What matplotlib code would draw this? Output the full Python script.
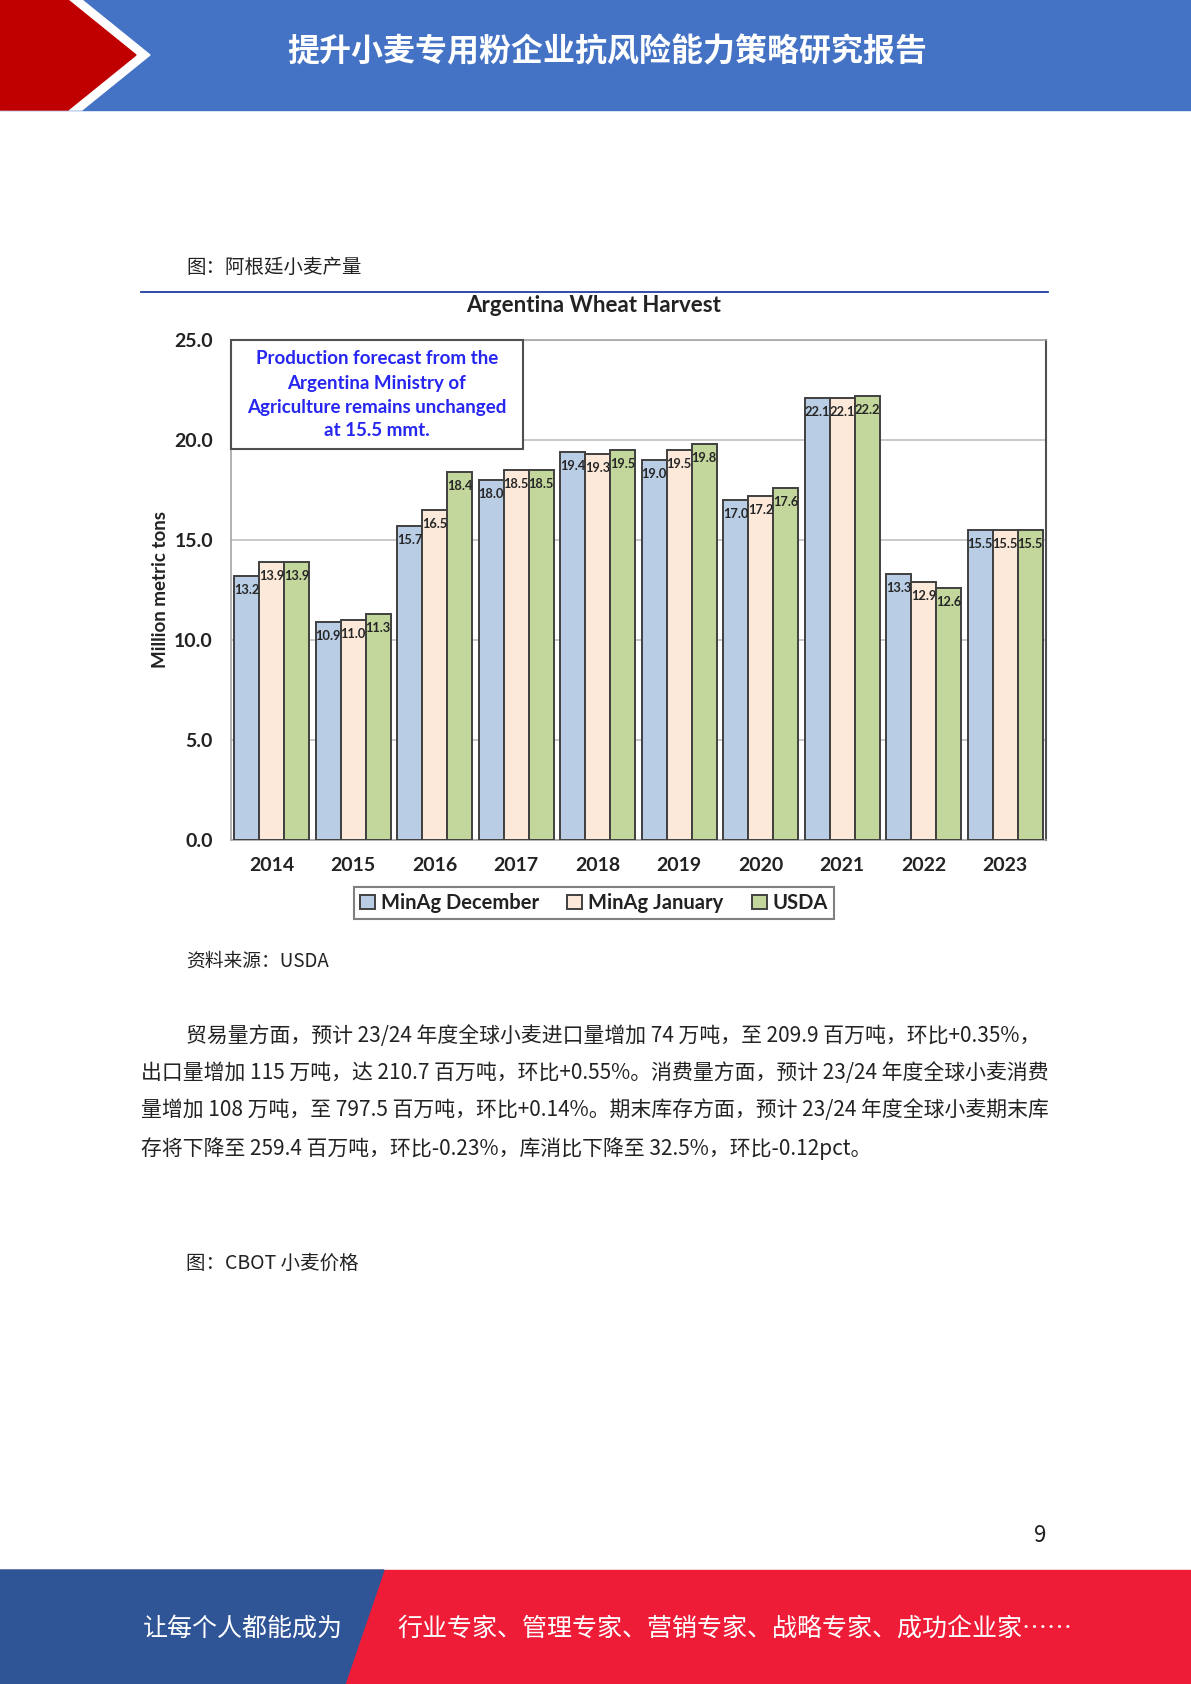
import matplotlib
matplotlib.use("Agg")
import matplotlib.pyplot as plt
import numpy as np
from matplotlib.patches import Polygon, Rectangle
from matplotlib.ticker import FormatStrFormatter

plt.rcParams["font.family"] = ["Lato", "DejaVu Sans"]

# chart data
years = ["2014", "2015", "2016", "2017", "2018", "2019", "2020", "2021", "2022", "2023"]
minagDecember = [13.2, 10.9, 15.7, 18.0, 19.4, 19.0, 17.0, 22.1, 13.3, 15.5]
minagJanuary = [13.9, 11.0, 16.5, 18.5, 19.3, 19.5, 17.2, 22.1, 12.9, 15.5]
usda = [13.9, 11.3, 18.4, 18.5, 19.5, 19.8, 17.6, 22.2, 12.6, 15.5]
seriesNames = ["MinAg December", "MinAg January", "USDA"]
yTicks = [0, 5, 10, 15, 20, 25]

# page text
headerTitle = "提升小麦专用粉企业抗风险能力策略研究报告"
figCaption = "图：阿根廷小麦产量"
sourceText = "资料来源：USDA"
paragraphLines = [
    "贸易量方面，预计 23/24 年度全球小麦进口量增加 74 万吨，至 209.9 百万吨，环比+0.35%，",
    "出口量增加 115 万吨，达 210.7 百万吨，环比+0.55%。消费量方面，预计 23/24 年度全球小麦消费",
    "量增加 108 万吨，至 797.5 百万吨，环比+0.14%。期末库存方面，预计 23/24 年度全球小麦期末库",
    "存将下降至 259.4 百万吨，环比-0.23%，库消比下降至 32.5%，环比-0.12pct。",
]
nextCaption = "图：CBOT 小麦价格"
footerLeft = "让每个人都能成为"
footerRight = "行业专家、管理专家、营销专家、战略专家、成功企业家……"
pageNumber = "9"
noteText = "Production forecast from the\nArgentina Ministry of\nAgriculture remains unchanged\nat 15.5 mmt."

W, H = 1191, 1684
cjk = ["Noto Sans CJK SC", "DejaVu Sans"]

fig = plt.figure(figsize=(W / 100, H / 100), dpi=100)

# page layer in pixel coordinates
page = fig.add_axes([0, 0, 1, 1])
page.set_xlim(0, W)
page.set_ylim(H, 0)
page.axis("off")

# header band
page.add_patch(Rectangle((0, 0), W, 110, color="#4472c4", zorder=1))
page.add_patch(Polygon([(0, 0), (82, 0), (150, 55), (82, 110), (0, 110)], color="white", zorder=2))
page.add_patch(Polygon([(0, 0), (68, 0), (136, 55), (68, 110), (0, 110)], color="#c00000", zorder=3))
page.text(607, 52, headerTitle, color="white", fontsize=23, fontweight="bold",
          family=cjk, ha="center", va="center", zorder=4)

# caption and rule
page.text(186, 267, figCaption, fontsize=14, family=cjk, ha="left", va="center", color="#222222")
page.plot([141, 1048], [292, 292], color="#1f3f9f", lw=1.3)

# source + paragraph
page.text(186, 961, sourceText, fontsize=13.5, family=cjk, ha="left", va="center", color="#222222")
lineY = [1036, 1073, 1110, 1149]
for i, line in enumerate(paragraphLines):
    page.text(186 if i == 0 else 141, lineY[i], line, fontsize=15, family=cjk,
              ha="left", va="center", color="#222222")
page.text(186, 1263, nextCaption, fontsize=14, family=cjk, ha="left", va="center", color="#222222")
page.text(1040, 1535, pageNumber, fontsize=16, family=cjk, ha="center", va="center", color="#222222")

# footer
page.add_patch(Rectangle((0, 1570), W, H - 1570, color="#ef1c37", zorder=1))
page.add_patch(Polygon([(0, 1570), (384, 1570), (345, H), (0, H)], color="#2f5597", zorder=2))
page.text(143, 1629, footerLeft, color="white", fontsize=18, family=cjk, ha="left", va="center", zorder=3)
page.text(397, 1629, footerRight, color="white", fontsize=18, family=cjk, ha="left", va="center", zorder=3)

# chart
ax = fig.add_axes([231 / W, 1 - 840 / H, (1046 - 231) / W, (840 - 340) / H])
x = np.arange(len(years))
barW = 0.307
colors = ["#b9cde5", "#fde9d9", "#c3d69b"]
seriesData = [minagDecember, minagJanuary, usda]
for k, (vals, col, name) in enumerate(zip(seriesData, colors, seriesNames)):
    pos = x + (k - 1) * barW
    ax.bar(pos, vals, barW, color=col, edgecolor="#404040", linewidth=1.4, label=name, zorder=3)
    for px, v in zip(pos, vals):
        ax.annotate("%.1f" % v, (px, v), xytext=(0, -10), textcoords="offset points",
                    ha="center", va="center", fontsize=9.3, fontweight="bold", color="#262626", zorder=4)

ax.set_xlim(-0.5, len(years) - 0.5)
ax.set_ylim(0, 25)
ax.set_yticks(yTicks)
ax.yaxis.set_major_formatter(FormatStrFormatter("%.1f"))
ax.set_xticks(x)
ax.set_xticklabels(years)
ax.tick_params(axis="both", length=0, labelsize=14, colors="#222222")
ax.tick_params(axis="x", pad=12)
ax.tick_params(axis="y", pad=13)
for lab in ax.get_xticklabels() + ax.get_yticklabels():
    lab.set_fontweight("bold")
ax.grid(axis="y", color="#c0c0c0", lw=1.2, zorder=0)
for s in ["left", "top", "bottom"]:
    ax.spines[s].set_color("#a6a6a6")
    ax.spines[s].set_linewidth(1.2)
ax.spines["right"].set_color("#505050")
ax.spines["right"].set_linewidth(1.5)
ax.set_ylabel("Million metric tons", fontsize=13.5, fontweight="bold", color="#222222", labelpad=4)

fig.text(594 / W, 1 - 305 / H, "Argentina Wheat Harvest", fontsize=16, fontweight="bold",
         ha="center", va="center", color="#222222")

leg = ax.legend(loc="center", bbox_to_anchor=(594 / W, 1 - 903 / H), bbox_transform=fig.transFigure,
                ncol=3, frameon=True, fancybox=False, handlelength=0.75, handleheight=0.75,
                handletextpad=0.3, columnspacing=1.4, borderpad=0.3, borderaxespad=0,
                prop={"weight": "bold", "size": 14.5})
leg.get_frame().set_edgecolor("#606060")
leg.get_frame().set_linewidth(1.5)
for t in leg.get_texts():
    t.set_color("#222222")

# note box on top of the chart
over = fig.add_axes([0, 0, 1, 1])
over.set_xlim(0, W)
over.set_ylim(H, 0)
over.axis("off")
over.patch.set_alpha(0)
over.add_patch(Rectangle((231, 340), 292, 109, facecolor="white", edgecolor="#505050", lw=1.5, zorder=10))
over.text(377, 395, noteText, fontsize=13.5, fontweight="bold", color="#2626f0", ha="center", va="center",
          linespacing=1.5, zorder=11)

fig.savefig("out.png", dpi=100)
